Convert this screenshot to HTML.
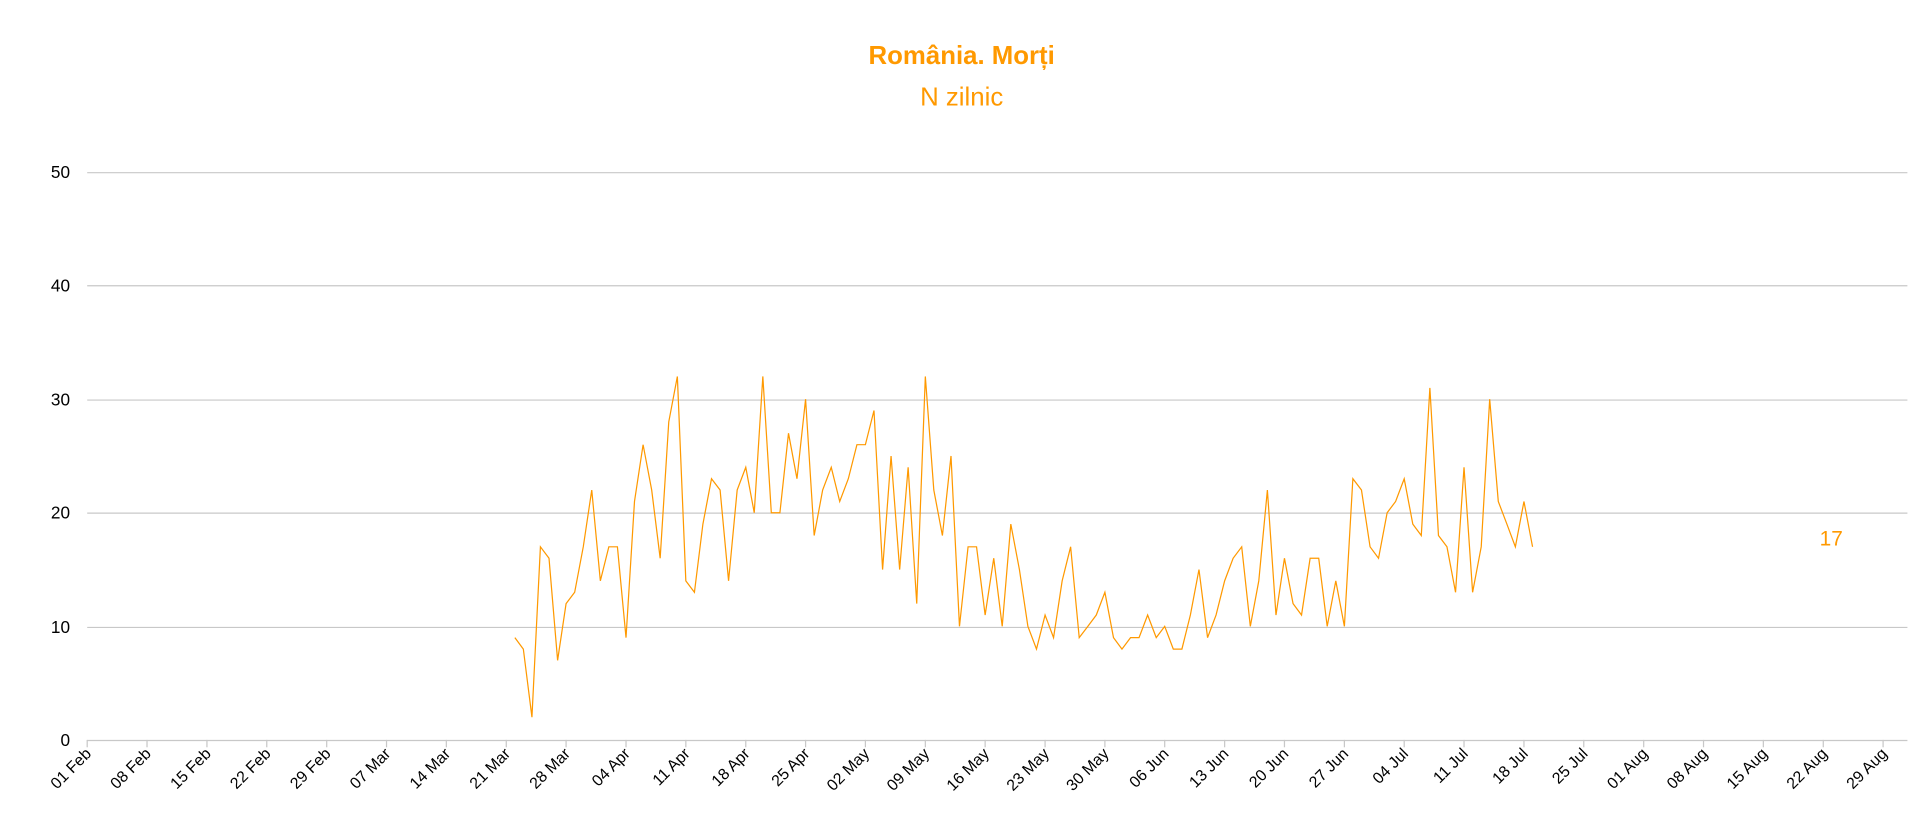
<!DOCTYPE html>
<html><head><meta charset="utf-8"><style>
html,body{margin:0;padding:0;background:#fff;}
svg{display:block;}
</style></head><body>
<svg width="1916" height="837" viewBox="0 0 1560 681" preserveAspectRatio="none" xmlns="http://www.w3.org/2000/svg" font-family="'Liberation Sans', sans-serif">
<text x="783" y="52" text-anchor="middle" font-size="21" font-weight="bold" fill="#FF9900">România. Morți</text>
<text x="783" y="86" text-anchor="middle" font-size="21" fill="#FF9900">N zilnic</text>
<g stroke="#c8c8c8" stroke-width="1">
<line x1="71" y1="140.5" x2="1553" y2="140.5"/>
<line x1="71" y1="232.5" x2="1553" y2="232.5"/>
<line x1="71" y1="325.5" x2="1553" y2="325.5"/>
<line x1="71" y1="417.5" x2="1553" y2="417.5"/>
<line x1="71" y1="510.5" x2="1553" y2="510.5"/>
<line x1="71" y1="602.5" x2="1553" y2="602.5"/>
</g>
<g font-size="14" fill="#000" text-anchor="end">
<text x="57" y="145">50</text><text x="57" y="237">40</text><text x="57" y="330">30</text>
<text x="57" y="422">20</text><text x="57" y="515">10</text><text x="57" y="607">0</text>
</g>
<g stroke="#c8c8c8">
<line x1="71" x2="71" y1="602" y2="608"/><line x1="119.7" x2="119.7" y1="602" y2="608"/><line x1="168.5" x2="168.5" y1="602" y2="608"/><line x1="217.2" x2="217.2" y1="602" y2="608"/><line x1="266" x2="266" y1="602" y2="608"/><line x1="314.7" x2="314.7" y1="602" y2="608"/><line x1="363.4" x2="363.4" y1="602" y2="608"/><line x1="412.2" x2="412.2" y1="602" y2="608"/><line x1="460.9" x2="460.9" y1="602" y2="608"/><line x1="509.7" x2="509.7" y1="602" y2="608"/><line x1="558.4" x2="558.4" y1="602" y2="608"/><line x1="607.2" x2="607.2" y1="602" y2="608"/><line x1="655.9" x2="655.9" y1="602" y2="608"/><line x1="704.6" x2="704.6" y1="602" y2="608"/><line x1="753.4" x2="753.4" y1="602" y2="608"/><line x1="802.1" x2="802.1" y1="602" y2="608"/><line x1="850.9" x2="850.9" y1="602" y2="608"/><line x1="899.6" x2="899.6" y1="602" y2="608"/><line x1="948.3" x2="948.3" y1="602" y2="608"/><line x1="997.1" x2="997.1" y1="602" y2="608"/><line x1="1045.8" x2="1045.8" y1="602" y2="608"/><line x1="1094.6" x2="1094.6" y1="602" y2="608"/><line x1="1143.3" x2="1143.3" y1="602" y2="608"/><line x1="1192" x2="1192" y1="602" y2="608"/><line x1="1240.8" x2="1240.8" y1="602" y2="608"/><line x1="1289.5" x2="1289.5" y1="602" y2="608"/><line x1="1338.3" x2="1338.3" y1="602" y2="608"/><line x1="1387" x2="1387" y1="602" y2="608"/><line x1="1435.7" x2="1435.7" y1="602" y2="608"/><line x1="1484.5" x2="1484.5" y1="602" y2="608"/><line x1="1533.2" x2="1533.2" y1="602" y2="608"/>
</g>
<g font-size="13" fill="#000" text-anchor="end">
<text transform="translate(75,614) rotate(-45)">01 Feb</text>
<text transform="translate(123.7,614) rotate(-45)">08 Feb</text>
<text transform="translate(172.5,614) rotate(-45)">15 Feb</text>
<text transform="translate(221.2,614) rotate(-45)">22 Feb</text>
<text transform="translate(270,614) rotate(-45)">29 Feb</text>
<text transform="translate(318.7,614) rotate(-45)">07 Mar</text>
<text transform="translate(367.4,614) rotate(-45)">14 Mar</text>
<text transform="translate(416.2,614) rotate(-45)">21 Mar</text>
<text transform="translate(464.9,614) rotate(-45)">28 Mar</text>
<text transform="translate(513.7,614) rotate(-45)">04 Apr</text>
<text transform="translate(562.4,614) rotate(-45)">11 Apr</text>
<text transform="translate(611.2,614) rotate(-45)">18 Apr</text>
<text transform="translate(659.9,614) rotate(-45)">25 Apr</text>
<text transform="translate(708.6,614) rotate(-45)">02 May</text>
<text transform="translate(757.4,614) rotate(-45)">09 May</text>
<text transform="translate(806.1,614) rotate(-45)">16 May</text>
<text transform="translate(854.9,614) rotate(-45)">23 May</text>
<text transform="translate(903.6,614) rotate(-45)">30 May</text>
<text transform="translate(952.3,614) rotate(-45)">06 Jun</text>
<text transform="translate(1001.1,614) rotate(-45)">13 Jun</text>
<text transform="translate(1049.8,614) rotate(-45)">20 Jun</text>
<text transform="translate(1098.6,614) rotate(-45)">27 Jun</text>
<text transform="translate(1147.3,614) rotate(-45)">04 Jul</text>
<text transform="translate(1196,614) rotate(-45)">11 Jul</text>
<text transform="translate(1244.8,614) rotate(-45)">18 Jul</text>
<text transform="translate(1293.5,614) rotate(-45)">25 Jul</text>
<text transform="translate(1342.3,614) rotate(-45)">01 Aug</text>
<text transform="translate(1391,614) rotate(-45)">08 Aug</text>
<text transform="translate(1439.7,614) rotate(-45)">15 Aug</text>
<text transform="translate(1488.5,614) rotate(-45)">22 Aug</text>
<text transform="translate(1537.2,614) rotate(-45)">29 Aug</text>
</g>
<polyline fill="none" stroke="#FF9900" stroke-width="1" points="419.2,518.8 426.1,528.1 433.1,583.5 440,444.9 447,454.2 454,537.3 460.9,491.1 467.9,481.9 474.9,444.9 481.8,398.7 488.8,472.6 495.7,444.9 502.7,444.9 509.7,518.8 516.6,408 523.6,361.8 530.6,398.7 537.5,454.2 544.5,343.3 551.5,306.3 558.4,472.6 565.4,481.9 572.3,426.4 579.3,389.5 586.3,398.7 593.2,472.6 600.2,398.7 607.2,380.2 614.1,417.2 621.1,306.3 628,417.2 635,417.2 642,352.5 648.9,389.5 655.9,324.8 662.9,435.7 669.8,398.7 676.8,380.2 683.7,408 690.7,389.5 697.7,361.8 704.6,361.8 711.6,334 718.6,463.4 725.5,371 732.5,463.4 739.4,380.2 746.4,491.1 753.4,306.3 760.3,398.7 767.3,435.7 774.3,371 781.2,509.6 788.2,444.9 795.1,444.9 802.1,500.4 809.1,454.2 816,509.6 823,426.4 830,463.4 836.9,509.6 843.9,528.1 850.9,500.4 857.8,518.8 864.8,472.6 871.7,444.9 878.7,518.8 885.7,509.6 892.6,500.4 899.6,481.9 906.6,518.8 913.5,528.1 920.5,518.8 927.4,518.8 934.4,500.4 941.4,518.8 948.3,509.6 955.3,528.1 962.3,528.1 969.2,500.4 976.2,463.4 983.2,518.8 990.1,500.4 997.1,472.6 1004,454.2 1011,444.9 1018,509.6 1024.9,472.6 1031.9,398.7 1038.9,500.4 1045.8,454.2 1052.8,491.1 1059.7,500.4 1066.7,454.2 1073.7,454.2 1080.6,509.6 1087.6,472.6 1094.6,509.6 1101.5,389.5 1108.5,398.7 1115.5,444.9 1122.4,454.2 1129.4,417.2 1136.3,408 1143.3,389.5 1150.3,426.4 1157.2,435.7 1164.2,315.6 1171.2,435.7 1178.1,444.9 1185.1,481.9 1192,380.2 1199,481.9 1206,444.9 1212.9,324.8 1219.9,408 1226.9,426.4 1233.8,444.9 1240.8,408 1247.8,444.9"/>
<text x="1491" y="444" text-anchor="middle" font-size="17" fill="#FF9900">17</text>
</svg>
</body></html>
